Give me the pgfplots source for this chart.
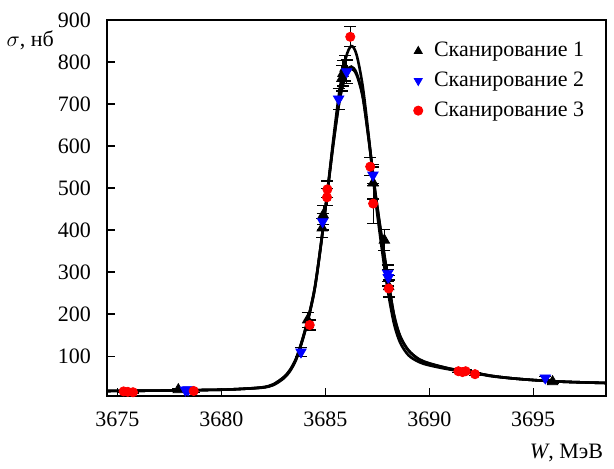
\documentclass[border=0pt]{standalone}
\usepackage{fontspec}
\setmainfont{Liberation Serif}
\usepackage{pgfplots}
\pgfplotsset{compat=1.18}
\begin{document}
\begin{tikzpicture}
\begin{axis}[
  name=ax,
  scale only axis,
  width=249.5pt, height=188pt,
  xmin=3674.5, xmax=3698.5,
  ymin=5, ymax=900,
  xtick={3675,3680,3685,3690,3695},
  ytick={100,200,...,900},
  xtick pos=bottom, ytick pos=left,
  tick align=inside,
  major tick length=4pt,
  axis line style={line width=0.7pt},
  every tick/.style={black, line width=0.6pt},
  /pgf/number format/assume math mode=true,
  /pgf/number format/1000 sep={},
  tick label style={font=\fontsize{11}{13}\selectfont},
  xticklabel style={yshift=-4.5pt},
  yticklabel style={xshift=-4.5pt},
  legend style={at={(0.593,0.963)}, anchor=north west, draw=none, fill=none,
    font=\fontsize{11}{13}\selectfont, row sep=2.1pt,
    legend cell align=left},
  legend image code/.code={\draw[mark size=2.3pt] plot coordinates {(0.15cm,0cm)}; \path (0cm,0cm) (0.35cm,0cm);},
  clip=false,
]
% fitted curves
\addplot[black, line width=1.3pt, smooth, forget plot] coordinates {
(3674.5,17) (3676,17.5) (3678,18.5) (3680,20) (3681,22) (3682,26) (3682.5,33)
(3683,50) (3683.3,67) (3683.6,95) (3683.9,140) (3684.2,195) (3684.5,265)
(3684.8,370) (3685.1,490) (3685.4,612) (3685.7,715) (3686.0,775) (3686.25,789)
(3686.5,774) (3686.8,720) (3687.1,612) (3687.4,492) (3687.7,388) (3688.0,290)
(3688.3,200) (3688.6,148) (3689.0,114) (3689.5,93) (3690,83) (3691,70)
(3692,62) (3693,53) (3694,47) (3695,43) (3696,40) (3697,38) (3698.5,36)};
\addplot[black, line width=1.3pt, smooth, forget plot] coordinates {
(3674.5,17) (3676,17.5) (3678,18.5) (3680,20) (3681,22) (3682,25.5) (3682.5,32)
(3683,49) (3683.3,66) (3683.6,94) (3683.9,139) (3684.2,194) (3684.5,264)
(3684.8,370) (3685.1,490) (3685.4,610) (3685.7,712) (3686.0,770) (3686.25,784)
(3686.5,770) (3686.8,716) (3687.1,610) (3687.4,490) (3687.7,385) (3688.0,287)
(3688.3,197) (3688.6,146) (3689.0,113) (3689.5,92) (3690,82) (3691,70)
(3692,62) (3693,53) (3694,47) (3695,43) (3696,40) (3697,38) (3698.5,36)};
\addplot[black, line width=1.3pt, smooth, forget plot] coordinates {
(3674.5,17) (3676,17.5) (3678,18.5) (3680,20) (3681,22) (3682,25) (3682.5,31)
(3683,47) (3683.3,64) (3683.6,92) (3683.9,137) (3684.2,192) (3684.5,262)
(3684.8,368) (3685.1,492) (3685.4,622) (3685.7,738) (3686.0,812) (3686.25,838)
(3686.5,818) (3686.8,742) (3687.1,618) (3687.4,478) (3687.7,362) (3688.0,258)
(3688.3,178) (3688.6,132) (3689.0,102) (3689.5,86) (3690,78) (3691,68)
(3692,61) (3693,52) (3694,47) (3695,43) (3696,40) (3697,38) (3698.5,36)};
% Scan 1
\addplot[only marks, mark=triangle*, mark size=3pt, mark options={black, fill=black},
  error bars/.cd, y dir=both, y explicit,
  error bar style={black, line width=0.6pt},
  error mark options={rotate=90, mark size=3pt, black, line width=0.6pt}]
coordinates {
(3677.93,20) +- (0,3)
(3684.15,186) +- (0,18)
(3684.85,405) +- (0,22)
(3684.9,436) +- (0,22)
(3685.8,761) +- (0,30)
(3685.85,773) +- (0,30)
(3685.95,785) +- (0,30)
(3687.3,512) +- (0,38)
(3687.84,376) +- (0,25)
(3688.05,265) +- (0,26)
(3695.93,39) +- (0,3)
};
\addlegendentry{Сканирование 1}
% Scan 2
\addplot[only marks, mark=triangle*, mark size=3pt, mark options={blue, fill=blue, rotate=180},
  error bars/.cd, y dir=both, y explicit,
  error bar style={black, line width=0.6pt},
  error mark options={rotate=90, mark size=3pt, black, line width=0.6pt}]
coordinates {
(3678.27,19) +- (0,3)
(3678.4,20) +- (0,3)
(3683.83,110) +- (0,10)
(3684.87,420) +- (0,20)
(3685.64,712) +- (0,25)
(3686.03,777) +- (0,28)
(3687.29,531) +- (0,25)
(3688.0,297) +- (0,20)
(3688.03,287) +- (0,20)
(3695.58,48) +- (0,3)
};
\addlegendentry{Сканирование 2}
% Scan 3
\addplot[only marks, mark=*, mark size=2.3pt, mark options={red, fill=red, draw=red},
  error bars/.cd, y dir=both, y explicit,
  error bar style={black, line width=0.6pt},
  error mark options={rotate=90, mark size=3pt, black, line width=0.6pt}]
coordinates {
(3675.3,16) +- (0,2)
(3675.5,15) +- (0,2)
(3675.75,14) +- (0,2)
(3678.67,17) +- (0,3)
(3684.25,174) +- (0,12)
(3685.08,478) +- (0,20)
(3685.1,497) +- (0,20)
(3686.2,860) +- (0,24)
(3687.16,551) +- (0,22)
(3687.3,463) +- (0,47)
(3688.05,261) +- (0,20)
(3691.4,64) +- (0,3)
(3691.6,62) +- (0,3)
(3691.75,64) +- (0,3)
(3692.2,57) +- (0,3)
};
\addlegendentry{Сканирование 3}
\node[anchor=east, font=\fontsize{11}{13}\selectfont] at ([xshift=-23pt]rel axis cs:0,0.947) {$\sigma$, нб};
\node[anchor=north east, font=\fontsize{11}{13}\selectfont] at ([xshift=2pt,yshift=-20.5pt]rel axis cs:1,0) {\textit{W}, МэВ};
\end{axis}
\path (ax.south west) ++(-53.5pt,-30.5pt);
\path (ax.south west) ++(253.5pt,198pt);
\end{tikzpicture}
\end{document}
